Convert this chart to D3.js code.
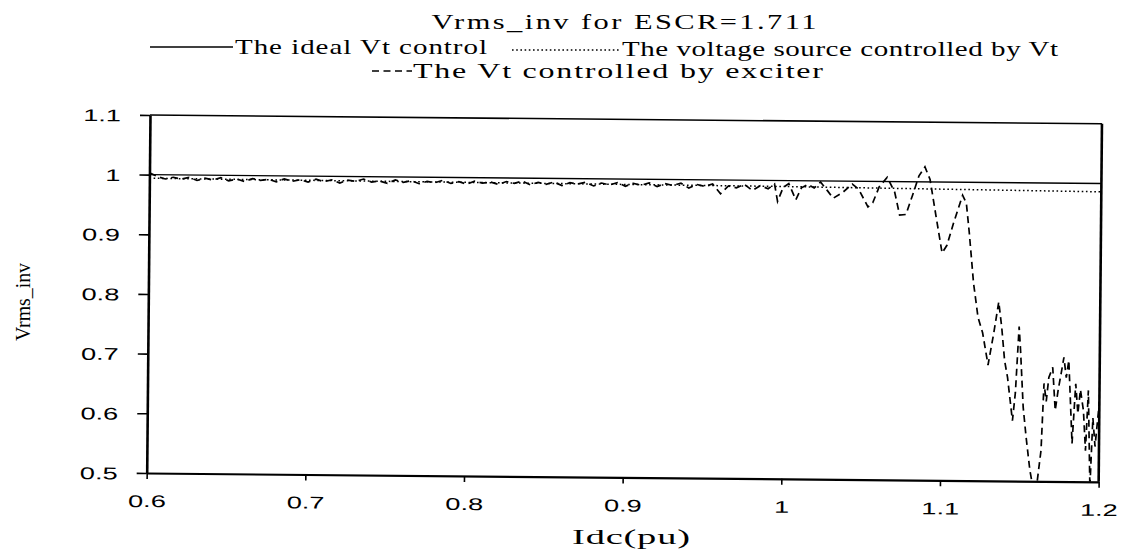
<!DOCTYPE html>
<html>
<head>
<meta charset="utf-8">
<script src="https://cdn.jsdelivr.net/npm/d3@7"></script>
<style>
  html, body { margin: 0; padding: 0; background: #fff; }
  svg { display: block; }
</style>
</head>
<body>
<svg id="chart" width="1127" height="554"></svg>
<script>
// Axis ticks and labels
const idcTicks = [0.6, 0.7, 0.8, 0.9, 1.0, 1.1, 1.2];
const idcTickLabels = ["0.6", "0.7", "0.8", "0.9", "1", "1.1", "1.2"];
const vTicks = [0.5, 0.6, 0.7, 0.8, 0.9, 1.0, 1.1];
const vTickLabels = ["0.5", "0.6", "0.7", "0.8", "0.9", "1", "1.1"];

const titleText = "Vrms_inv for ESCR=1.711";
const xTitle = "Idc(pu)";
const yTitle = "Vrms_inv";
const seriesNames = ["The ideal Vt control", "The voltage source controlled by Vt", "The Vt controlled by exciter"];

// Series 1: ideal terminal-voltage control
const idealIdc = [0.6, 1.2];
const idealV = [1.0, 1.0];

// Series 2: voltage source controlled by Vt
const sourceIdc = [0.6, 0.7, 0.8, 0.9, 1.0, 1.1, 1.2];
const sourceV = [0.994, 0.993, 0.992, 0.991, 0.990, 0.988, 0.986];

// Series 3: Vt controlled by exciter
const exciterIdc = [
  0.600, 0.605, 0.610, 0.615, 0.620, 0.625, 0.630, 0.635, 0.640, 0.645,
  0.650, 0.655, 0.660, 0.665, 0.670, 0.675, 0.680, 0.685, 0.690, 0.695,
  0.700, 0.705, 0.710, 0.715, 0.720, 0.725, 0.730, 0.735, 0.740, 0.745,
  0.750, 0.755, 0.760, 0.765, 0.770, 0.775, 0.780, 0.785, 0.790, 0.795,
  0.800, 0.805, 0.810, 0.815, 0.820, 0.825, 0.830, 0.835, 0.840, 0.845,
  0.850, 0.855, 0.860, 0.865, 0.870, 0.875, 0.880, 0.885, 0.890, 0.895,
  0.900, 0.905, 0.910, 0.915, 0.920, 0.925, 0.930, 0.935, 0.940, 0.945,
  0.950, 0.955, 0.960, 0.965, 0.970, 0.975, 0.980, 0.985, 0.990, 0.994,
  0.996, 0.9994, 1.003, 1.0075, 1.011, 1.015, 1.019, 1.023, 1.027, 1.031,
  1.037, 1.043, 1.047, 1.053, 1.056, 1.060, 1.065, 1.0698, 1.073, 1.077,
  1.081, 1.085, 1.0887, 1.092, 1.096, 1.100, 1.103, 1.107, 1.1126, 1.115,
  1.117, 1.120, 1.123, 1.126, 1.1296, 1.133, 1.136, 1.138, 1.140, 1.142,
  1.1453, 1.147, 1.149, 1.150, 1.152, 1.154, 1.1566, 1.160, 1.1635, 1.165,
  1.1665, 1.168, 1.1704, 1.1722, 1.174, 1.1758, 1.1774, 1.179, 1.1805, 1.183,
  1.185, 1.1865, 1.188, 1.190, 1.1915, 1.193, 1.1945, 1.196, 1.1975, 1.200
];
const exciterV = [
  1.003, 0.997, 0.993, 0.996, 0.993, 0.996, 0.991, 0.995, 0.992, 0.996,
  0.991, 0.994, 0.990, 0.995, 0.992, 0.994, 0.990, 0.995, 0.991, 0.994,
  0.990, 0.995, 0.991, 0.994, 0.989, 0.994, 0.992, 0.996, 0.991, 0.993,
  0.989, 0.995, 0.991, 0.994, 0.989, 0.993, 0.991, 0.995, 0.990, 0.993,
  0.989, 0.994, 0.991, 0.993, 0.989, 0.994, 0.991, 0.995, 0.989, 0.993,
  0.990, 0.994, 0.988, 0.993, 0.991, 0.994, 0.988, 0.993, 0.990, 0.994,
  0.988, 0.993, 0.990, 0.994, 0.988, 0.993, 0.990, 0.994, 0.986, 0.992,
  0.989, 0.993, 0.977, 0.990, 0.987, 0.993, 0.983, 0.991, 0.986, 0.994,
  0.965, 0.988, 0.995, 0.968, 0.988, 0.994, 0.988, 0.998, 0.985, 0.971,
  0.981, 0.995, 0.987, 0.957, 0.964, 0.991, 1.007, 0.982, 0.944, 0.945,
  0.977, 1.010, 1.025, 1.004, 0.942, 0.881, 0.894, 0.931, 0.978, 0.965,
  0.916, 0.831, 0.774, 0.748, 0.694, 0.747, 0.800, 0.758, 0.702, 0.673,
  0.601, 0.648, 0.759, 0.720, 0.624, 0.574, 0.518, 0.470, 0.552, 0.664,
  0.634, 0.674, 0.691, 0.619, 0.654, 0.682, 0.708, 0.674, 0.703, 0.564,
  0.664, 0.614, 0.654, 0.619, 0.552, 0.653, 0.490, 0.607, 0.559, 0.634
];

const svg = d3.select("#chart");
const W = 952, H = 358;
const SERIF = "'Liberation Serif', 'Times New Roman', serif";
const SANS = "'Liberation Sans', Arial, sans-serif";

const x = d3.scaleLinear().domain([0.6, 1.2]).range([0, W]);
const y = d3.scaleLinear().domain([0.5, 1.1]).range([H, 0]);

// The whole plot frame sits very slightly rotated on the page
const plot = svg.append("g").attr("transform", "translate(150,115) rotate(0.53)");

svg.append("defs").append("clipPath").attr("id", "plot-clip")
  .append("rect").attr("x", 0).attr("y", 0).attr("width", W).attr("height", H);

// Frame: top and right borders
plot.append("line").attr("x1", 0).attr("y1", 0).attr("x2", W).attr("y2", 0)
  .attr("stroke", "#000").attr("stroke-width", 1.6);
plot.append("line").attr("x1", W).attr("y1", 0).attr("x2", W).attr("y2", H)
  .attr("stroke", "#000").attr("stroke-width", 2.6);

const TICK_SX = 1.6;

// Left axis
const yAxis = plot.append("g").call(
  d3.axisLeft(y).tickValues(vTicks).tickFormat((d, i) => vTickLabels[i])
    .tickSize(10).tickSizeOuter(0)
);
yAxis.select(".domain").attr("stroke-width", 2.6);
yAxis.selectAll(".tick line").attr("stroke-width", 1.6);
yAxis.selectAll(".tick text")
  .attr("font-family", SANS).attr("font-size", 17).attr("fill", "#000")
  .attr("x", -29 / TICK_SX).attr("dy", "0.36em")
  .attr("transform", `scale(${TICK_SX},1)`);

// Bottom axis
const xAxis = plot.append("g").attr("transform", `translate(0,${H})`).call(
  d3.axisBottom(x).tickValues(idcTicks).tickFormat((d, i) => idcTickLabels[i])
    .tickSize(6).tickSizeOuter(0)
);
xAxis.select(".domain").attr("stroke-width", 2.2);
xAxis.selectAll(".tick line").attr("stroke-width", 1.6);
xAxis.selectAll(".tick text")
  .attr("font-family", SANS).attr("font-size", 17).attr("fill", "#000")
  .attr("y", 22).attr("dy", "0.71em")
  .attr("transform", `scale(${TICK_SX},1)`);

// Series lines
const line = d3.line().x(d => x(d[0])).y(d => y(d[1]));
const lines = plot.append("g").attr("clip-path", "url(#plot-clip)");

lines.append("path").datum(d3.zip(idealIdc, idealV)).attr("d", line)
  .attr("fill", "none").attr("stroke", "#000").attr("stroke-width", 1.4);
lines.append("path").datum(d3.zip(sourceIdc, sourceV)).attr("d", line)
  .attr("fill", "none").attr("stroke", "#000").attr("stroke-width", 1.5)
  .attr("stroke-dasharray", "1.6,2.6");
lines.append("path").datum(d3.zip(exciterIdc, exciterV)).attr("d", line)
  .attr("fill", "none").attr("stroke", "#000").attr("stroke-width", 1.7)
  .attr("stroke-dasharray", "7,4.5");

// Text helper: horizontally stretched serif text, letter-spaced to a width
function addText(str, x0, y0, size, width, sx, anchor) {
  return svg.append("text")
    .attr("transform", `translate(${x0},${y0}) scale(${sx},1)`)
    .attr("font-family", SERIF).attr("font-size", size).attr("fill", "#000")
    .attr("text-anchor", anchor || "start")
    .attr("textLength", width / sx).attr("lengthAdjust", "spacing")
    .text(str);
}

// Title
addText(titleText, 624, 29, 21, 385, 1.45, "middle");

// Legend
const legend = svg.append("g");
legend.append("line").attr("x1", 150).attr("x2", 233).attr("y1", 47).attr("y2", 47)
  .attr("stroke", "#000").attr("stroke-width", 1.4);
addText(seriesNames[0], 235, 54, 20, 252, 1.45);
legend.append("line").attr("x1", 512).attr("x2", 620).attr("y1", 50).attr("y2", 50)
  .attr("stroke", "#000").attr("stroke-width", 1.5).attr("stroke-dasharray", "1.6,2.6");
addText(seriesNames[1], 622, 56, 20, 436, 1.45);
legend.append("line").attr("x1", 372).attr("x2", 412).attr("y1", 71).attr("y2", 71)
  .attr("stroke", "#000").attr("stroke-width", 1.6).attr("stroke-dasharray", "7,4.5");
addText(seriesNames[2], 413, 78, 20, 410, 1.6);

// Axis titles
addText(xTitle, 631, 544, 22, 118, 1.75, "middle");
svg.append("g")
  .attr("transform", "translate(30,302) rotate(-90)")
  .append("text")
  .attr("x", 0).attr("y", 0)
  .attr("font-family", SERIF).attr("font-size", 22).attr("fill", "#000")
  .attr("text-anchor", "middle")
  .attr("textLength", 78).attr("lengthAdjust", "spacingAndGlyphs")
  .text(yTitle);
</script>
</body>
</html>
